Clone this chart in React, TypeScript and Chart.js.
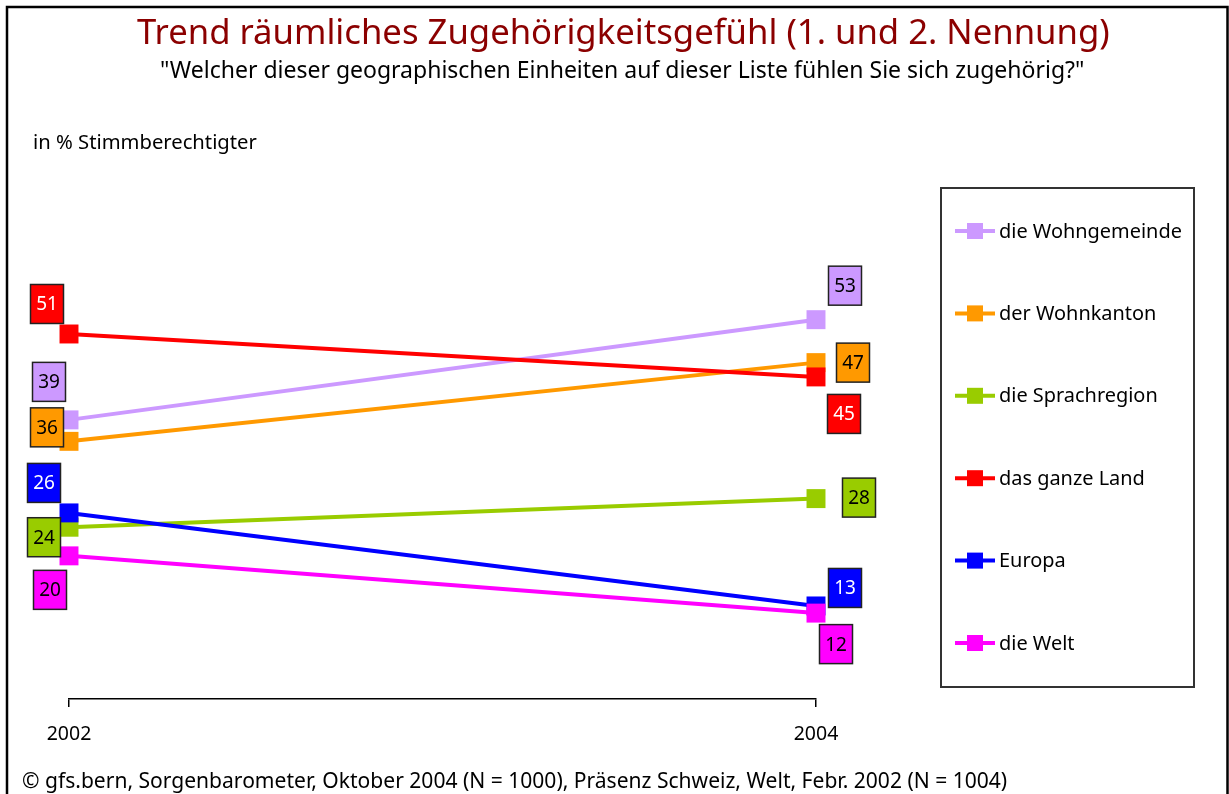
import React, { useEffect, useRef } from "react";
import { Chart, registerables } from "chart.js";

Chart.register(...registerables);

const FONT = "'Noto Sans', 'DejaVu Sans', sans-serif";

const years = ["2002", "2004"];
const seriesNames = [
  "die Wohngemeinde",
  "der Wohnkanton",
  "die Sprachregion",
  "das ganze Land",
  "Europa",
  "die Welt",
];
const wohngemeinde = [39, 53];
const wohnkanton = [36, 47];
const sprachregion = [24, 28];
const ganzesLand = [51, 45];
const europa = [26, 13];
const welt = [20, 12];
const seriesValues = [wohngemeinde, wohnkanton, sprachregion, ganzesLand, europa, welt];

const colors = ["#CC99FF", "#FF9900", "#99CC00", "#FF0000", "#0000FF", "#FF00FF"];
const labelTextColors = ["#000", "#000", "#000", "#fff", "#fff", "#000"];

// label box placement relative to the point (styling only)
const labelOffsets = [
  [[-20, -38], [29, -34]],
  [[-22, -14], [37, 0]],
  [[-25, 10], [43, -1]],
  [[-22, -30], [28, 37]],
  [[-25, -30], [29, -18]],
  [[-19, 34], [20, 31]],
];

const titleText = "Trend räumliches Zugehörigkeitsgefühl (1. und 2. Nennung)";
const subtitleText = "\"Welcher dieser geographischen Einheiten auf dieser Liste fühlen Sie sich zugehörig?\"";
const unitText = "in % Stimmberechtigter";
const footerText =
  "© gfs.bern, Sorgenbarometer, Oktober 2004 (N = 1000), Präsenz Schweiz, Welt, Febr. 2002 (N = 1004)";

function fitSize(ctx: CanvasRenderingContext2D, text: string, w: number) {
  ctx.font = `100px ${FONT}`;
  const m = ctx.measureText(text).width;
  return (100 * w) / m;
}

const decorPlugin = {
  id: "decor",
  afterDraw(chart: any) {
    const ctx: CanvasRenderingContext2D = chart.ctx;
    ctx.save();
    // frame
    ctx.strokeStyle = "#000";
    ctx.lineWidth = 2.5;
    ctx.beginPath();
    ctx.moveTo(7, 800);
    ctx.lineTo(7, 7);
    ctx.lineTo(1227.5, 7);
    ctx.lineTo(1227.5, 800);
    ctx.stroke();

    // title
    ctx.textAlign = "left";
    ctx.textBaseline = "alphabetic";
    let s = fitSize(ctx, titleText, 973);
    ctx.font = `${s}px ${FONT}`;
    ctx.fillStyle = "#8B0000";
    ctx.fillText(titleText, 137, 44);

    s = fitSize(ctx, subtitleText, 925);
    ctx.font = `${s}px ${FONT}`;
    ctx.fillStyle = "#000";
    ctx.fillText(subtitleText, 160, 78);

    s = fitSize(ctx, unitText, 224);
    ctx.font = `${s}px ${FONT}`;
    ctx.fillText(unitText, 33, 149);

    s = fitSize(ctx, footerText, 986);
    ctx.font = `${s}px ${FONT}`;
    ctx.fillText(footerText, 22, 788);

    // legend
    ctx.strokeStyle = "#333";
    ctx.lineWidth = 2;
    ctx.strokeRect(941, 188, 253, 499);
    const ls = fitSize(ctx, seriesNames[0], 183);
    ctx.font = `${ls}px ${FONT}`;
    ctx.textBaseline = "middle";
    seriesNames.forEach((name, i) => {
      const y = 231 + i * 82.4;
      ctx.strokeStyle = colors[i];
      ctx.lineWidth = 4;
      ctx.beginPath();
      ctx.moveTo(955, y);
      ctx.lineTo(995, y);
      ctx.stroke();
      ctx.fillStyle = colors[i];
      ctx.fillRect(967, y - 8, 16, 16);
      ctx.fillStyle = "#000";
      ctx.fillText(name, 999, y + 1);
    });

    // data labels
    ctx.font = `19px ${FONT}`;
    ctx.textAlign = "center";
    ctx.textBaseline = "middle";
    chart.data.datasets.forEach((ds: any, i: number) => {
      const meta = chart.getDatasetMeta(i);
      meta.data.forEach((pt: any, j: number) => {
        const [dx, dy] = labelOffsets[i][j];
        const cx = pt.x + dx;
        const cy = pt.y + dy;
        const w = 33;
        const h = 39;
        ctx.fillStyle = colors[i];
        ctx.fillRect(cx - w / 2, cy - h / 2, w, h);
        ctx.strokeStyle = "#222";
        ctx.lineWidth = 1.5;
        ctx.strokeRect(cx - w / 2, cy - h / 2, w, h);
        ctx.fillStyle = labelTextColors[i];
        ctx.fillText(String(ds.data[j]), cx, cy + 1);
      });
    });
    ctx.restore();
  },
};

export default function App() {
  const ref = useRef<HTMLCanvasElement | null>(null);
  useEffect(() => {
    if (!ref.current) return;
    const chart = new Chart(ref.current, {
      type: "line",
      data: {
        labels: years,
        datasets: seriesNames.map((name, i) => ({
          label: name,
          data: seriesValues[i],
          borderColor: colors[i],
          backgroundColor: colors[i],
          borderWidth: 4,
          pointStyle: "rect",
          pointRadius: 13.4,
          pointBorderWidth: 0,
          pointBackgroundColor: colors[i],
          tension: 0,
          clip: false,
          order: seriesNames.length - i,
        })),
      },
      options: {
        animation: false,
        responsive: false,
        layout: { padding: { left: 69, right: 413, top: 198, bottom: 0 } },
        plugins: {
          legend: { display: false },
          title: { display: false },
          tooltip: { enabled: false },
        },
        scales: {
          x: {
            type: "category",
            offset: false,
            grid: {
              display: true,
              drawOnChartArea: false,
              drawTicks: true,
              tickLength: 8,
              color: "#000",
              lineWidth: 1.5,
            },
            border: { display: true, color: "#000", width: 1.5 },
            ticks: { color: "#000", font: { family: FONT, size: 19.5 }, padding: 16 },
            afterFit: (scale: any) => {
              scale.height = 95;
            },
          },
          y: { display: false, min: 0, max: 70 },
        },
      },
      plugins: [decorPlugin],
    });
    return () => chart.destroy();
  }, []);
  return (
    <div style={{ position: "absolute", left: 0, top: 0, width: 1229, height: 794, background: "#fff" }}>
      <canvas ref={ref} width={1229} height={794} />
    </div>
  );
}
